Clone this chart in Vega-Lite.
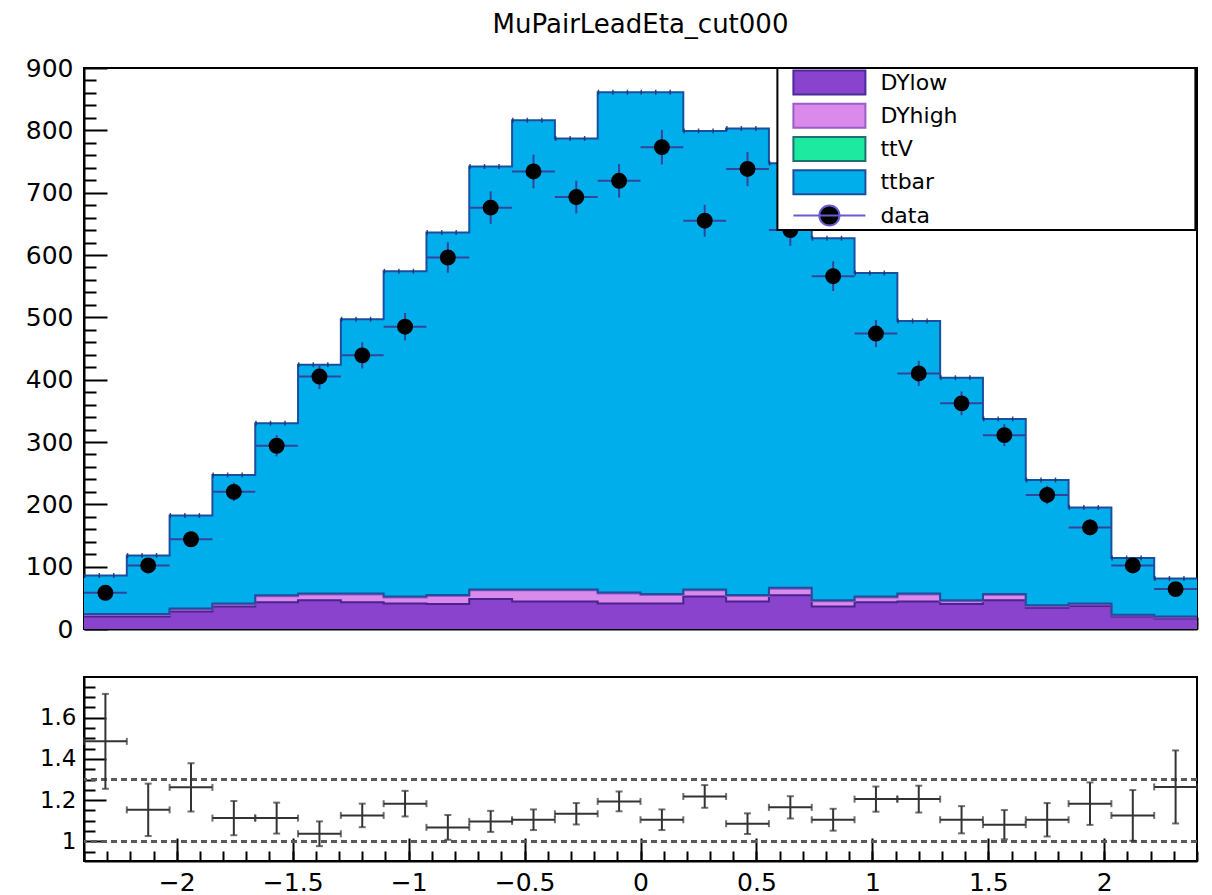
{
  "$schema": "https://vega.github.io/schema/vega-lite/v6.json",
  "background": "white",
  "padding": {"left": 24, "top": 12, "right": 16, "bottom": 2},
  "title": {
    "text": "MuPairLeadEta_cut000",
    "font": "DejaVu Sans",
    "fontSize": 26,
    "fontWeight": "normal",
    "color": "black",
    "anchor": "middle",
    "frame": "group",
    "offset": 17
  },
  "bounds": "flush",
  "spacing": 48,
  "data": {
    "values": [
      {"eta": -2.3077, "lo": -2.4, "hi": -2.2154, "DYlow": 20, "DYhigh": 2.5, "ttV": 1.5, "ttbar": 62, "data": 58, "dataErr": 7.6, "ratio": 1.485, "ratioErr": 0.23},
      {"eta": -2.1231, "lo": -2.2154, "hi": -2.0308, "DYlow": 20, "DYhigh": 2.5, "ttV": 1.5, "ttbar": 94, "data": 102, "dataErr": 10.1, "ratio": 1.153, "ratioErr": 0.127},
      {"eta": -1.9385, "lo": -2.0308, "hi": -1.8462, "DYlow": 28, "DYhigh": 3.5, "ttV": 1.5, "ttbar": 149, "data": 144, "dataErr": 12, "ratio": 1.262, "ratioErr": 0.117},
      {"eta": -1.7538, "lo": -1.8462, "hi": -1.6615, "DYlow": 36, "DYhigh": 3.5, "ttV": 1.5, "ttbar": 206, "data": 220, "dataErr": 14.8, "ratio": 1.113, "ratioErr": 0.083},
      {"eta": -1.5692, "lo": -1.6615, "hi": -1.4769, "DYlow": 43, "DYhigh": 9.5, "ttV": 1.5, "ttbar": 276, "data": 294, "dataErr": 17.1, "ratio": 1.113, "ratioErr": 0.075},
      {"eta": -1.3846, "lo": -1.4769, "hi": -1.2923, "DYlow": 46, "DYhigh": 9.5, "ttV": 1.5, "ttbar": 367, "data": 405, "dataErr": 20.1, "ratio": 1.037, "ratioErr": 0.06},
      {"eta": -1.2, "lo": -1.2923, "hi": -1.1077, "DYlow": 43, "DYhigh": 12.5, "ttV": 1.5, "ttbar": 440, "data": 439, "dataErr": 21, "ratio": 1.126, "ratioErr": 0.057},
      {"eta": -1.0154, "lo": -1.1077, "hi": -0.9231, "DYlow": 41, "DYhigh": 9.5, "ttV": 1.5, "ttbar": 522, "data": 485, "dataErr": 22, "ratio": 1.183, "ratioErr": 0.062},
      {"eta": -0.8308, "lo": -0.9231, "hi": -0.7385, "DYlow": 40, "DYhigh": 13, "ttV": 1.5, "ttbar": 581.5, "data": 596, "dataErr": 24.4, "ratio": 1.068, "ratioErr": 0.06},
      {"eta": -0.6462, "lo": -0.7385, "hi": -0.5538, "DYlow": 48, "DYhigh": 14, "ttV": 1.5, "ttbar": 678.5, "data": 676, "dataErr": 26, "ratio": 1.097, "ratioErr": 0.051},
      {"eta": -0.4615, "lo": -0.5538, "hi": -0.3692, "DYlow": 44, "DYhigh": 18, "ttV": 1.5, "ttbar": 752.5, "data": 734, "dataErr": 27.1, "ratio": 1.105, "ratioErr": 0.05},
      {"eta": -0.2769, "lo": -0.3692, "hi": -0.1846, "DYlow": 44, "DYhigh": 18, "ttV": 1.5, "ttbar": 723.5, "data": 693, "dataErr": 26.3, "ratio": 1.134, "ratioErr": 0.052},
      {"eta": -0.0923, "lo": -0.1846, "hi": 0, "DYlow": 41, "DYhigh": 16, "ttV": 1.5, "ttbar": 802.5, "data": 719, "dataErr": 26.8, "ratio": 1.194, "ratioErr": 0.048},
      {"eta": 0.0923, "lo": 0, "hi": 0.1846, "DYlow": 41, "DYhigh": 13.5, "ttV": 1.5, "ttbar": 805, "data": 773, "dataErr": 27.8, "ratio": 1.105, "ratioErr": 0.05},
      {"eta": 0.2769, "lo": 0.1846, "hi": 0.3692, "DYlow": 52, "DYhigh": 10, "ttV": 1.5, "ttbar": 735.5, "data": 655, "dataErr": 25.6, "ratio": 1.218, "ratioErr": 0.055},
      {"eta": 0.4615, "lo": 0.3692, "hi": 0.5538, "DYlow": 44, "DYhigh": 9, "ttV": 1.5, "ttbar": 748.5, "data": 738, "dataErr": 27.2, "ratio": 1.086, "ratioErr": 0.05},
      {"eta": 0.6462, "lo": 0.5538, "hi": 0.7385, "DYlow": 54, "DYhigh": 10.5, "ttV": 1.5, "ttbar": 681, "data": 640, "dataErr": 25.3, "ratio": 1.165, "ratioErr": 0.054},
      {"eta": 0.8308, "lo": 0.7385, "hi": 0.9231, "DYlow": 36, "DYhigh": 8.5, "ttV": 1.5, "ttbar": 581, "data": 566, "dataErr": 23.8, "ratio": 1.105, "ratioErr": 0.053},
      {"eta": 1.0154, "lo": 0.9231, "hi": 1.1077, "DYlow": 43, "DYhigh": 7.5, "ttV": 1.5, "ttbar": 519, "data": 474, "dataErr": 21.8, "ratio": 1.205, "ratioErr": 0.061},
      {"eta": 1.2, "lo": 1.1077, "hi": 1.2923, "DYlow": 44, "DYhigh": 11.5, "ttV": 1.5, "ttbar": 437, "data": 410, "dataErr": 20.2, "ratio": 1.205, "ratioErr": 0.065},
      {"eta": 1.3846, "lo": 1.2923, "hi": 1.4769, "DYlow": 40, "DYhigh": 4.5, "ttV": 1.5, "ttbar": 357, "data": 362, "dataErr": 19, "ratio": 1.105, "ratioErr": 0.066},
      {"eta": 1.5692, "lo": 1.4769, "hi": 1.6615, "DYlow": 46, "DYhigh": 8.5, "ttV": 1.5, "ttbar": 281, "data": 311, "dataErr": 17.6, "ratio": 1.081, "ratioErr": 0.071},
      {"eta": 1.7538, "lo": 1.6615, "hi": 1.8462, "DYlow": 34, "DYhigh": 2.5, "ttV": 1.5, "ttbar": 201, "data": 215, "dataErr": 14.7, "ratio": 1.105, "ratioErr": 0.081},
      {"eta": 1.9385, "lo": 1.8462, "hi": 2.0308, "DYlow": 37, "DYhigh": 2.5, "ttV": 1.5, "ttbar": 154, "data": 163, "dataErr": 12.8, "ratio": 1.183, "ratioErr": 0.103},
      {"eta": 2.1231, "lo": 2.0308, "hi": 2.2154, "DYlow": 20, "DYhigh": 1.5, "ttV": 1.5, "ttbar": 91, "data": 102, "dataErr": 10.1, "ratio": 1.126, "ratioErr": 0.123},
      {"eta": 2.3077, "lo": 2.2154, "hi": 2.4, "DYlow": 17, "DYhigh": 1.5, "ttV": 1.5, "ttbar": 61, "data": 64, "dataErr": 8, "ratio": 1.264, "ratioErr": 0.177}
    ]
  },
  "config": {
    "font": "DejaVu Sans",
    "view": {"stroke": "black", "strokeWidth": 2},
    "axis": {
      "grid": false,
      "domainColor": "black",
      "domainWidth": 2,
      "tickColor": "black",
      "tickWidth": 2,
      "tickCap": "butt",
      "labelColor": "black",
      "labelFont": "DejaVu Sans",
      "labelFlush": false,
      "labelOverlap": false,
      "labelBound": false,
      "title": null
    }
  },
  "vconcat": [
    {
      "width": 1113,
      "height": 561,
      "resolve": {"axis": {"x": "independent", "y": "independent"}},
      "layer": [
        {
          "transform": [
            {"fold": ["DYlow", "DYhigh", "ttV", "ttbar"], "as": ["process", "count"]},
            {"window": [{"op": "row_number", "as": "rank"}], "groupby": ["lo"], "ignorePeers": true},
            {"stack": "count", "groupby": ["lo"], "sort": [{"field": "rank", "order": "ascending"}], "as": ["base", "top"]},
            {"fold": ["lo", "hi"], "as": ["edge", "x"]}
          ],
          "mark": {"type": "area", "interpolate": "linear"},
          "encoding": {
            "x": {
              "field": "x", "type": "quantitative",
              "scale": {"domain": [-2.4, 2.4], "nice": false, "zero": false},
              "axis": {
                "title": null,
                "orient": "bottom",
                "values": [-2, -1.5, -1, -0.5, 0, 0.5, 1, 1.5, 2],
                "labels": false,
                "tickSize": -25
              }
            },
            "y": {
              "field": "top", "type": "quantitative", "stack": null,
              "scale": {"domain": [0, 900], "nice": false, "zero": true},
              "axis": {
                "title": null,
                "orient": "left",
                "values": [0, 100, 200, 300, 400, 500, 600, 700, 800, 900],
                "format": "d",
                "labelFontSize": 25,
                "labelPadding": 34,
                "tickSize": -23
              }
            },
            "y2": {"field": "base"},
            "color": {
              "field": "process", "type": "nominal",
              "scale": {
                "domain": ["DYlow", "DYhigh", "ttV", "ttbar", "data"],
                "range": ["#8a43cc", "#d98aea", "#1de9a0", "#00aeec", "black"]
              },
              "legend": {
                "title": null,
                "orient": "none",
                "legendX": 693.4,
                "legendY": 0,
                "padding": 0,
                "fillColor": "white",
                "strokeColor": "black",
                "symbolSize": 5184,
                "symbolStrokeWidth": 2,
                "symbolOffset": 15,
                "clipHeight": 29,
                "rowPadding": 4.25,
                "labelOffset": 14,
                "labelFontSize": 22,
                "labelFont": "DejaVu Sans",
                "labelColor": "black",
                "labelLimit": 0,
                "labelExpr": "datum.label + '                                  \u200b'",
                "encode": {
                  "legend": {"update": {"strokeWidth": {"value": 2}}},
                  "symbols": {
                    "update": {
                      "shape": {"signal": "datum.value === 'data' ? 'M-1,0H1M0.28,0A0.28,0.28,0,1,1,-0.28,0A0.28,0.28,0,1,1,0.28,0Z' : 'M-1,-0.333H1V0.333H-1Z'"},
                      "stroke": {"signal": "datum.value === 'DYlow' ? '#4b2a9a' : datum.value === 'DYhigh' ? '#9b5cc8' : datum.value === 'ttV' ? '#1f7070' : datum.value === 'ttbar' ? '#1b4f9b' : '#6a5acd'"},
                      "strokeWidth": {"value": 2},
                      "opacity": {"value": 1}
                    }
                  }
                }
              }
            },
            "order": [{"field": "x", "type": "quantitative"}, {"field": "edge", "type": "ordinal"}]
          }
        },
        {
          "transform": [
            {"fold": ["DYlow", "DYhigh", "ttV", "ttbar"], "as": ["process", "count"]},
            {"window": [{"op": "row_number", "as": "rank"}], "groupby": ["lo"], "ignorePeers": true},
            {"stack": "count", "groupby": ["lo"], "sort": [{"field": "rank", "order": "ascending"}], "as": ["base", "top"]},
            {"fold": ["lo", "hi"], "as": ["edge", "x"]}
          ],
          "mark": {"type": "line", "strokeWidth": 2, "interpolate": "linear"},
          "encoding": {
            "x": {
              "field": "x", "type": "quantitative",
              "axis": {
                "title": null,
                "orient": "bottom",
                "values": [-2.4,-2.3,-2.2,-2.1,-2,-1.9,-1.8,-1.7,-1.6,-1.5,-1.4,-1.3,-1.2,-1.1,-1,-0.9,-0.8,-0.7,-0.6,-0.5,-0.4,-0.3,-0.2,-0.1,0,0.1,0.2,0.3,0.4,0.5,0.6,0.7,0.8,0.9,1,1.1,1.2,1.3,1.4,1.5,1.6,1.7,1.8,1.9,2,2.1,2.2,2.3,2.4],
                "labels": false,
                "domain": false,
                "tickSize": -12
              }
            },
            "y": {
              "field": "top", "type": "quantitative", "stack": null,
              "axis": {
                "title": null,
                "orient": "left",
                "values": [20,40,60,80,120,140,160,180,220,240,260,280,320,340,360,380,420,440,460,480,520,540,560,580,620,640,660,680,720,740,760,780,820,840,860,880],
                "labels": false,
                "domain": false,
                "tickSize": -12
              }
            },
            "stroke": {
              "field": "process", "type": "nominal",
              "scale": {"domain": ["DYlow", "DYhigh", "ttV", "ttbar"], "range": ["#4a2390", "#9a55c8", "#1d4f9a", "#1a4fa0"]},
              "legend": null
            },
            "order": [{"field": "x", "type": "quantitative"}, {"field": "edge", "type": "ordinal"}]
          }
        },
        {
          "transform": [
            {"fold": ["DYlow", "DYhigh", "ttV", "ttbar"], "as": ["process", "count"]},
            {"window": [{"op": "row_number", "as": "rank"}], "groupby": ["lo"], "ignorePeers": true},
            {"stack": "count", "groupby": ["lo"], "sort": [{"field": "rank", "order": "ascending"}], "as": ["base", "top"]},
            {"filter": {"field": "process", "equal": "ttbar"}}
          ],
          "mark": {"type": "rule", "color": "#1f2f6f", "strokeWidth": 5, "strokeDash": [1.5, 13], "opacity": 0.85},
          "encoding": {
            "x": {"field": "lo", "type": "quantitative", "axis": null},
            "x2": {"field": "hi"},
            "y": {"field": "top", "type": "quantitative", "axis": null}
          }
        },
        {
          "mark": {"type": "rule", "color": "#33449a", "strokeWidth": 2},
          "encoding": {
            "x": {"field": "lo", "type": "quantitative", "axis": null},
            "x2": {"field": "hi"},
            "y": {"field": "data", "type": "quantitative", "axis": null}
          }
        },
        {
          "mark": {"type": "errorbar", "color": "#33449a", "thickness": 2},
          "encoding": {
            "x": {"field": "eta", "type": "quantitative", "axis": null},
            "y": {"field": "data", "type": "quantitative", "axis": null},
            "yError": {"field": "dataErr"}
          }
        },
        {
          "mark": {"type": "circle", "size": 254, "opacity": 1},
          "encoding": {
            "x": {"field": "eta", "type": "quantitative", "axis": null},
            "y": {"field": "data", "type": "quantitative", "axis": null},
            "color": {"datum": "data", "type": "nominal"}
          }
        }
      ]
    },
    {
      "width": 1113,
      "height": 184,
      "resolve": {"axis": {"x": "independent", "y": "independent"}},
      "layer": [
        {
          "mark": {"type": "rule", "color": "#5a5a5a", "strokeWidth": 2.5, "strokeDash": [6, 4]},
          "encoding": {
            "y": {
              "datum": 1, "type": "quantitative",
              "scale": {"domain": [0.905, 1.797], "nice": false, "zero": false},
              "axis": {
                "title": null,
                "orient": "left",
                "values": [1, 1.2, 1.4, 1.6],
                "format": ".1~f",
                "labelFontSize": 23,
                "labelPadding": 30,
                "tickSize": -22
              }
            }
          }
        },
        {
          "mark": {"type": "rule", "color": "#5a5a5a", "strokeWidth": 2.5, "strokeDash": [6, 4]},
          "encoding": {
            "y": {
              "datum": 1.3, "type": "quantitative",
              "axis": {
                "title": null,
                "orient": "left",
                "values": [0.95, 1.05, 1.1, 1.15, 1.25, 1.3, 1.35, 1.45, 1.5, 1.55, 1.65, 1.7, 1.75],
                "labels": false,
                "domain": false,
                "tickSize": -11
              }
            }
          }
        },
        {
          "mark": {"type": "errorbar", "color": "#333333", "thickness": 2, "ticks": {"size": 7, "thickness": 2}},
          "encoding": {
            "x": {
              "field": "lo", "type": "quantitative",
              "scale": {"domain": [-2.4, 2.4], "nice": false, "zero": false},
              "axis": {
                "title": null,
                "orient": "bottom",
                "values": [-2, -1.5, -1, -0.5, 0, 0.5, 1, 1.5, 2],
                "format": ".1~f",
                "labelFontSize": 25,
                "labelPadding": 32,
                "tickSize": -23
              }
            },
            "x2": {"field": "hi"},
            "y": {"field": "ratio", "type": "quantitative", "axis": null}
          }
        },
        {
          "mark": {"type": "errorbar", "color": "#333333", "thickness": 2, "ticks": {"size": 7, "thickness": 2}},
          "encoding": {
            "x": {
              "field": "eta", "type": "quantitative",
              "axis": {
                "title": null,
                "orient": "bottom",
                "values": [-2.4,-2.3,-2.2,-2.1,-2,-1.9,-1.8,-1.7,-1.6,-1.5,-1.4,-1.3,-1.2,-1.1,-1,-0.9,-0.8,-0.7,-0.6,-0.5,-0.4,-0.3,-0.2,-0.1,0,0.1,0.2,0.3,0.4,0.5,0.6,0.7,0.8,0.9,1,1.1,1.2,1.3,1.4,1.5,1.6,1.7,1.8,1.9,2,2.1,2.2,2.3,2.4],
                "labels": false,
                "domain": false,
                "tickSize": -10
              }
            },
            "y": {"field": "ratio", "type": "quantitative", "axis": null},
            "yError": {"field": "ratioErr"}
          }
        }
      ]
    }
  ]
}
